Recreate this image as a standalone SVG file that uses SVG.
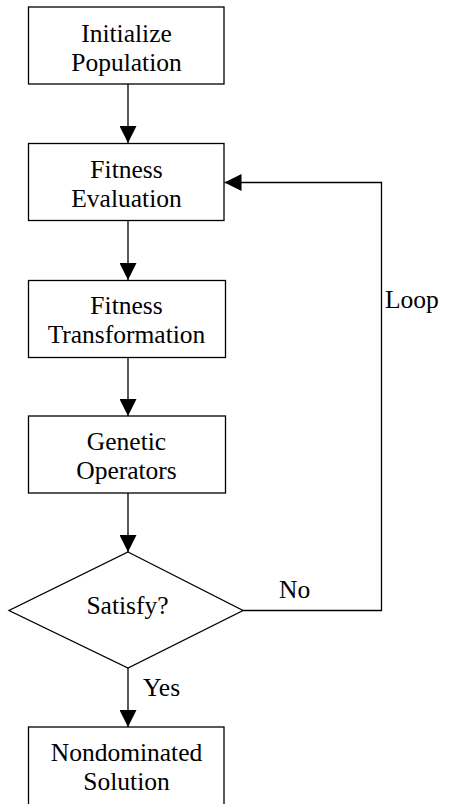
<svg xmlns="http://www.w3.org/2000/svg" width="452" height="804" viewBox="0 0 452 804" font-family="Liberation Serif, Times New Roman, serif">
  <style>
    .box { fill: #ffffff; stroke: #000000; stroke-width: 1.3; }
    .lbl { font-size: 25.5px; fill: #000000; text-anchor: middle; }
    .edge { fill: none; stroke: #000000; stroke-width: 1.3; }
    .elbl { font-size: 25.5px; fill: #000000; }
  </style>
  <defs>
    <marker id="arrow" markerUnits="userSpaceOnUse" markerWidth="17" markerHeight="17" viewBox="0 0 17 17" refX="17" refY="8.5" orient="auto">
      <path d="M0,0 L17,8.5 L0,17 Z" fill="#000000"/>
    </marker>
  </defs>
  <rect width="452" height="804" fill="#ffffff"/>

  <g id="connectors">
    <line class="edge" x1="128" y1="84" x2="128" y2="143" marker-end="url(#arrow)"/>
    <line class="edge" x1="128" y1="221" x2="128" y2="280" marker-end="url(#arrow)"/>
    <line class="edge" x1="128" y1="358" x2="128" y2="416" marker-end="url(#arrow)"/>
    <line class="edge" x1="128" y1="493" x2="128" y2="552" marker-end="url(#arrow)"/>
    <line class="edge" x1="128" y1="668" x2="128" y2="727" marker-end="url(#arrow)"/>
    <polyline class="edge" points="243,610.5 381.5,610.5 381.5,182.5 224.5,182.5" marker-end="url(#arrow)"/>
    <text class="elbl" x="279" y="598" font-family="Liberation Serif, serif">No</text>
    <text class="elbl" x="385" y="308" font-family="Liberation Serif, serif">Loop</text>
    <text class="elbl" x="143" y="696" font-family="Liberation Serif, serif">Yes</text>
  </g>

  <g id="init" font-family="Liberation Serif, serif">
    <rect class="box" x="28.5" y="7" width="195.5" height="77"/>
    <text class="lbl" x="126.5" y="42">Initialize</text>
    <text class="lbl" x="126.5" y="71">Population</text>
  </g>
  <g id="eval" font-family="Liberation Serif, serif">
    <rect class="box" x="28.5" y="143.5" width="195.5" height="77"/>
    <text class="lbl" x="126.5" y="178">Fitness</text>
    <text class="lbl" x="126.5" y="207">Evaluation</text>
  </g>
  <g id="transform" font-family="Liberation Serif, serif">
    <rect class="box" x="28.5" y="280.5" width="197" height="77"/>
    <text class="lbl" x="126.5" y="314">Fitness</text>
    <text class="lbl" x="126.5" y="343">Transformation</text>
  </g>
  <g id="genetic" font-family="Liberation Serif, serif">
    <rect class="box" x="28.5" y="416" width="197" height="77"/>
    <text class="lbl" x="126.5" y="450">Genetic</text>
    <text class="lbl" x="126.5" y="479">Operators</text>
  </g>
  <g id="satisfy" font-family="Liberation Serif, serif">
    <polygon class="box" points="128,552 243,610.5 128,668 9,610.5"/>
    <text class="lbl" x="127.5" y="614">Satisfy?</text>
  </g>
  <g id="solution" font-family="Liberation Serif, serif">
    <rect class="box" x="28.5" y="727" width="195.5" height="82"/>
    <text class="lbl" x="126.5" y="761">Nondominated</text>
    <text class="lbl" x="126.5" y="790">Solution</text>
  </g>
</svg>
